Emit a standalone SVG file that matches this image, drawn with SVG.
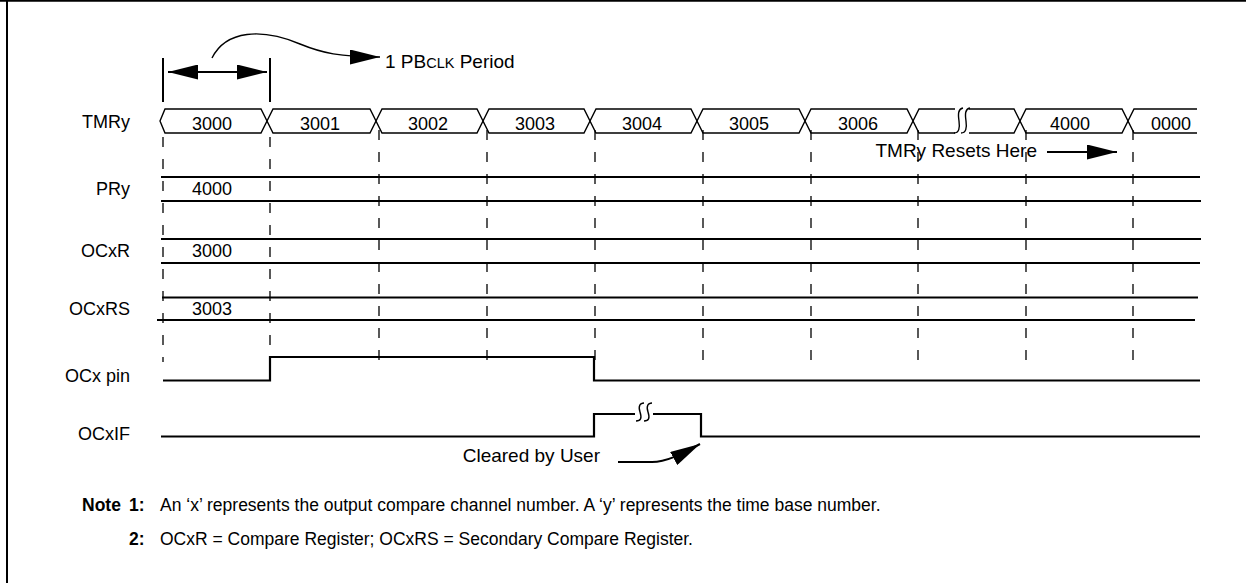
<svg xmlns="http://www.w3.org/2000/svg" width="1246" height="583" viewBox="0 0 1246 583">
  <style>
    text { font-family: "Liberation Sans", Arial, sans-serif; font-size: 18px; fill: #000; }
    .lbl { text-anchor: end; }
    .mid { text-anchor: middle; }
    .b { font-weight: bold; }
    .ann { font-size: 19px; }
    .note { font-size: 17.5px; }
    .bus { fill: none; stroke: #000; stroke-width: 1.4; stroke-linejoin: miter; }
    .sig { fill: none; stroke: #000; stroke-width: 2.2; }
    .reg { fill: none; stroke: #000; stroke-width: 2; }
    .dash { fill: none; stroke: #000; stroke-width: 1.3; stroke-dasharray: 10 12; }
    .thin { fill: none; stroke: #000; stroke-width: 1.4; }
    .mark { fill: none; stroke: #000; stroke-width: 2; }
  </style>
  <defs>
    <marker id="head" markerUnits="userSpaceOnUse" markerWidth="30" markerHeight="15" viewBox="0 0 30 15" refX="30" refY="7.5" orient="auto-start-reverse">
      <path d="M0,0 L30,7.5 L0,15 Z" fill="#000"/>
    </marker>
  </defs>

  <!-- frame -->
  <g id="frame">
    <line x1="0" y1="0.8" x2="1246" y2="0.8" stroke="#000" stroke-width="2"/>
    <line x1="7" y1="0" x2="7" y2="583" stroke="#000" stroke-width="2"/>
  </g>

  <!-- clock period markers -->
  <g id="period">
    <line class="mark" x1="163" y1="58" x2="163" y2="102"/>
    <line class="mark" x1="270" y1="58" x2="270" y2="102"/>
    <text class="ann" x="385" y="68">1 PB<tspan font-size="14.5">CLK</tspan> Period</text>
  </g>

  <!-- dashed time grid -->
  <g id="grid">
    <line class="dash" x1="163" y1="137" x2="163" y2="362"/>
    <line class="dash" x1="270" y1="137" x2="270" y2="362"/>
    <line class="dash" x1="379" y1="130" x2="379" y2="362"/>
    <line class="dash" x1="487" y1="130" x2="487" y2="362"/>
    <line class="dash" x1="595" y1="130" x2="595" y2="362"/>
    <line class="dash" x1="703" y1="130" x2="703" y2="362"/>
    <line class="dash" x1="811" y1="130" x2="811" y2="362"/>
    <line class="dash" x1="918" y1="130" x2="918" y2="362"/>
    <line class="dash" x1="1026" y1="130" x2="1026" y2="362"/>
    <line class="dash" x1="1133" y1="130" x2="1133" y2="362"/>
  </g>

  <!-- TMRy bus -->
  <g id="tmry">
    <text class="lbl" x="130" y="128">TMRy</text>
    <polygon class="bus" points="160,121 165,109 261,109 267,121 261,133 165,133"/>
    <polygon class="bus" points="267,121 273,109 370,109 376,121 370,133 273,133"/>
    <polygon class="bus" points="376,121 382,109 477,109 483,121 477,133 382,133"/>
    <polygon class="bus" points="483,121 489,109 584,109 590,121 584,133 489,133"/>
    <polygon class="bus" points="590,121 596,109 691,109 697,121 691,133 596,133"/>
    <polygon class="bus" points="697,121 703,109 799,109 805,121 799,133 703,133"/>
    <polygon class="bus" points="805,121 811,109 907,109 913,121 907,133 811,133"/>
    <path class="bus" d="M913,121 L919,109 H955 M969,109 H1014 L1020,121 L1014,133 H969 M955,133 H919 L913,121"/>
    <path class="bus" d="M954,133 C959,133 960,128 959,121 C958,114 958,109 963,108 M961,133 C966,133 967,128 966,121 C965,114 965,109 970,108"/>
    <polygon class="bus" points="1020,121 1026,109 1122,109 1128,121 1122,133 1026,133"/>
    <path class="bus" d="M1197,109 H1134 L1128,121 L1134,133 H1197"/>
    <text class="mid" x="212" y="129.5">3000</text>
    <text class="mid" x="320" y="129.5">3001</text>
    <text class="mid" x="428" y="129.5">3002</text>
    <text class="mid" x="535" y="129.5">3003</text>
    <text class="mid" x="642" y="129.5">3004</text>
    <text class="mid" x="749" y="129.5">3005</text>
    <text class="mid" x="858" y="129.5">3006</text>
    <text class="mid" x="1070" y="129.5">4000</text>
    <text class="mid" x="1171" y="129.5">0000</text>
  </g>

  <!-- period register -->
  <g id="pry">
    <text class="lbl" x="130" y="195">PRy</text>
    <line class="reg" x1="161" y1="177" x2="1200" y2="177"/>
    <line class="reg" x1="161" y1="201" x2="1201" y2="201"/>
    <text x="192" y="195">4000</text>
  </g>

  <!-- compare register -->
  <g id="ocxr">
    <text class="lbl" x="130" y="257">OCxR</text>
    <line class="reg" x1="161" y1="239" x2="1201" y2="239"/>
    <line class="reg" x1="161" y1="263" x2="1200" y2="263"/>
    <text x="192" y="257">3000</text>
  </g>

  <!-- secondary compare register -->
  <g id="ocxrs">
    <text class="lbl" x="130" y="315">OCxRS</text>
    <line class="reg" x1="162" y1="297.5" x2="1198" y2="297.5"/>
    <line class="reg" x1="157" y1="320" x2="1195" y2="320"/>
    <text x="192" y="315">3003</text>
  </g>

  <!-- output pin -->
  <g id="ocxpin">
    <text class="lbl" x="130" y="382">OCx pin</text>
    <path class="sig" d="M163,380.5 H270 V357 H594 V380.5 H1200"/>
  </g>

  <!-- interrupt flag -->
  <g id="ocxif">
    <text class="lbl" x="130" y="440">OCxIF</text>
    <path class="sig" d="M161,436.5 H594 V414 H635 M653,414 H701 V436.5 H1200"/>
    <path class="thin" d="M636,421 C641,421 642,418 640,412 C638,406 640,403 644,403 M644,421 C649,421 650,418 648,412 C646,406 648,403 652,403"/>
    <text class="lbl ann" x="600" y="462">Cleared by User</text>
  </g>

  <!-- annotation arrows -->
  <g id="connectors">
    <line class="mark" x1="168" y1="72" x2="267" y2="72" marker-start="url(#head)" marker-end="url(#head)"/>
    <path class="thin" d="M212,58 C226,30 262,28 300,44 C322,53 340,57 380,57" marker-end="url(#head)"/>
    <text class="lbl ann" x="1037" y="157">TMRy Resets Here</text>
    <line class="mark" x1="1047" y1="152" x2="1117" y2="152" marker-end="url(#head)"/>
    <path class="mark" d="M618,462 H652 C666,462 680,455 700,444" marker-end="url(#head)"/>
  </g>

  <!-- notes -->
  <g id="notes">
    <text class="b note" x="82" y="510.5">Note</text>
    <text class="b note" x="129" y="510.5">1:</text>
    <text class="note" x="160" y="510.5">An ‘x’ represents the output compare channel number. A ‘y’ represents the time base number.</text>
    <text class="b note" x="129" y="545">2:</text>
    <text class="note" x="160" y="545">OCxR = Compare Register; OCxRS = Secondary Compare Register.</text>
  </g>
</svg>
